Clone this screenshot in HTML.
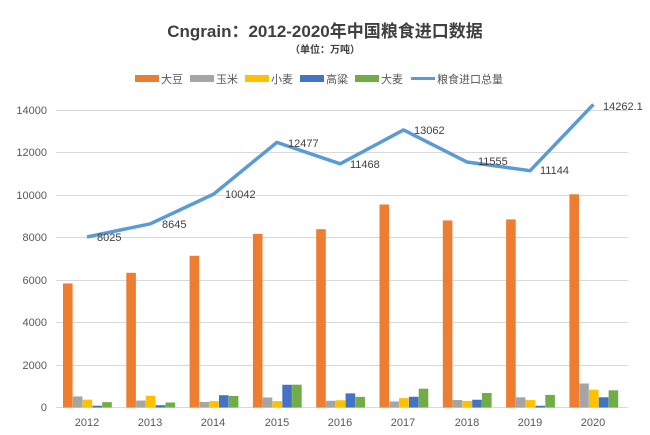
<!DOCTYPE html>
<html><head><meta charset="utf-8"><style>
html,body{margin:0;padding:0;background:#fff;}
svg{display:block;font-family:"Liberation Sans","Noto Sans CJK SC",sans-serif;}
</style></head><body>
<svg id="s" width="650" height="435" viewBox="0 0 650 435" xmlns="http://www.w3.org/2000/svg">
<rect width="650" height="435" fill="#fff"/>
<text x="325" y="37" text-anchor="middle" font-size="17" font-weight="bold" fill="#404040">Cngrain：2012-2020年中国粮食进口数据</text>
<text x="325" y="53" text-anchor="middle" font-size="10" font-weight="bold" fill="#404040">（单位：万吨）</text>
<g font-size="11" fill="#595959">
<rect x="135" y="75" width="24" height="7" fill="#ed7d31"/><text x="161" y="83">大豆</text>
<rect x="190" y="75" width="24" height="7" fill="#a5a5a5"/><text x="216" y="83">玉米</text>
<rect x="245" y="75" width="24" height="7" fill="#ffc000"/><text x="271" y="83">小麦</text>
<rect x="300" y="75" width="24" height="7" fill="#4472c4"/><text x="326" y="83">高粱</text>
<rect x="355" y="75" width="24" height="7" fill="#70ad47"/><text x="381" y="83">大麦</text>
<line x1="411" y1="78.5" x2="435" y2="78.5" stroke="#5b9bd5" stroke-width="3"/><text x="437" y="83">粮食进口总量</text>
</g>
<g stroke="#d9d9d9" stroke-width="1">
<line x1="56" y1="110.5" x2="628" y2="110.5"/><line x1="56" y1="152.5" x2="628" y2="152.5"/>
<line x1="56" y1="195.5" x2="628" y2="195.5"/><line x1="56" y1="237.5" x2="628" y2="237.5"/>
<line x1="56" y1="280.5" x2="628" y2="280.5"/><line x1="56" y1="322.5" x2="628" y2="322.5"/>
<line x1="56" y1="365.5" x2="628" y2="365.5"/><line x1="56" y1="407.5" x2="628" y2="407.5"/>
</g>
<g font-size="11" fill="#595959" text-anchor="end">
<text x="47" y="114">14000</text><text x="47" y="156">12000</text><text x="47" y="199">10000</text>
<text x="47" y="241">8000</text><text x="47" y="284">6000</text><text x="47" y="326">4000</text>
<text x="47" y="369">2000</text><text x="47" y="411">0</text>
</g>
<g id="bars"></g>
<g font-size="11" fill="#595959" text-anchor="middle">
<text x="87" y="426">2012</text><text x="150" y="426">2013</text><text x="213" y="426">2014</text>
<text x="277" y="426">2015</text><text x="340" y="426">2016</text><text x="403" y="426">2017</text>
<text x="467" y="426">2018</text><text x="530" y="426">2019</text><text x="593" y="426">2020</text>
</g>
<polyline id="ln" fill="none" stroke="#5b9bd5" stroke-width="3.5" stroke-linejoin="round" points=""/>
<g font-size="11" fill="#404040">
<text x="97" y="241">8025</text><text x="162" y="228">8645</text><text x="225" y="198">10042</text>
<text x="288" y="147">12477</text><text x="350" y="168">11468</text><text x="414" y="134">13062</text>
<text x="478" y="165">11555</text><text x="540" y="174">11144</text><text x="603" y="110">14262.1</text>
</g>
<script>
var d=[[5838,521,370,85,253],[6338,327,554,108,234],[7140,260,300,578,541],[8169,473,301,1070,1073],[8391,317,341,665,500],[9553,283,442,506,886],[8803,352,310,365,682],[8851,479,349,83,593],[10033,1130,838,481,808]];
var tot=[8025,8645,10042,12477,11468,13062,11555,11144,14262.1];
var c=["#ed7d31","#a5a5a5","#ffc000","#4472c4","#70ad47"];
var g=document.getElementById("bars"),ns="http://www.w3.org/2000/svg",pts=[];
function y(v){return 407.5-v*0.02125;}
for(var i=0;i<9;i++){var cx=87+i*63.3;
for(var j=0;j<5;j++){var r=document.createElementNS(ns,"rect");r.setAttribute("x",cx-24+j*9.8);r.setAttribute("y",y(d[i][j]));r.setAttribute("width",9.6);r.setAttribute("height",407.5-y(d[i][j]));r.setAttribute("fill",c[j]);g.appendChild(r);}
pts.push(cx+","+y(tot[i]));}
document.getElementById("ln").setAttribute("points",pts.join(" "));
</script>
</svg>
</body></html>
